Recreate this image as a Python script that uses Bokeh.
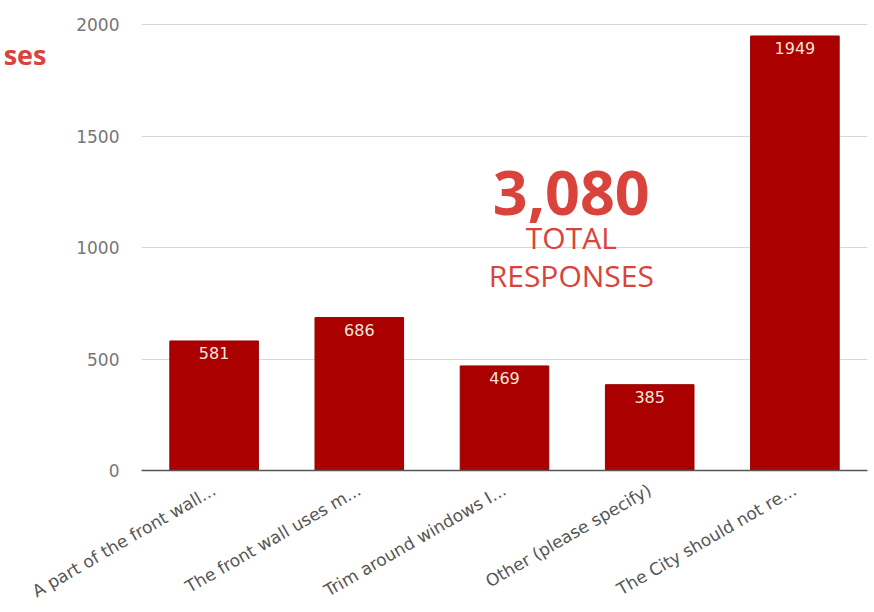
import math
from bokeh.plotting import figure
from bokeh.models import ColumnDataSource, FixedTicker, Range1d, Label, LabelSet, LinearAxis
from bokeh.core.properties import value
from bokeh.embed import file_html
from bokeh.resources import INLINE

categories = ["A part of the front wall...", "The front wall uses m...", "Trim around windows I...",
              "Other (please specify)", "The City should not re..."]
values = [581, 686, 469, 385, 1949]
y_ticks = [0, 500, 1000, 1500, 2000]
total_text = "3,080"
total_sub1 = "TOTAL"
total_sub2 = "RESPONSES"
side_text = "ses"

src = ColumnDataSource(dict(cat=categories, val=values, lab=[str(v) for v in values]))

p = figure(x_range=categories, y_range=Range1d(0, 2050), width=874, height=612,
           output_backend="svg", toolbar_location=None,
           min_border_left=139, min_border_right=7, min_border_top=13, min_border_bottom=139)
p.outline_line_color = None
p.background_fill_color = "white"

p.vbar(x="cat", top="val", width=0.61, source=src, fill_color="#aa0000", line_color="#990000")

labels = LabelSet(x="cat", y="val", text="lab", source=src, text_align="center",
                  text_baseline="top", y_offset=-6, text_color="#f4e6dc",
                  text_font_size="16px", text_font=value("DejaVu Sans"))
p.add_layout(labels)

p.yaxis.ticker = FixedTicker(ticks=y_ticks)
p.yaxis.axis_line_color = None
p.yaxis.major_tick_line_color = None
p.yaxis.minor_tick_line_color = None
p.yaxis.major_label_standoff = 16
p.yaxis.major_label_text_color = "#777777"
p.yaxis.major_label_text_font = "DejaVu Sans"
p.yaxis.major_label_text_font_size = "17px"

p.xaxis.axis_line_color = "#555555"
p.xaxis.axis_line_width = 1.5
p.xaxis.major_tick_line_color = None
p.xaxis.minor_tick_line_color = None
p.xaxis.major_label_orientation = math.pi / 6
p.xaxis.major_label_standoff = 12
p.xaxis.major_label_text_color = "#555555"
p.xaxis.major_label_text_font = "DejaVu Sans"
p.xaxis.major_label_text_font_size = "17px"

p.xgrid.grid_line_color = None
p.ygrid.grid_line_color = "#d8d8d8"
p.ygrid.ticker = FixedTicker(ticks=y_ticks)

red = "#d9433b"
p.add_layout(Label(x=2.96, y=1245, text=total_text, text_align="center", text_baseline="middle",
                   text_font="Open Sans", text_font_style="bold", text_font_size="61px", text_color=red))
p.add_layout(Label(x=2.96, y=1043, text=total_sub1, text_align="center", text_baseline="middle",
                   text_font="Open Sans", text_font_size="30px", text_color=red))
p.add_layout(Label(x=2.96, y=873, text=total_sub2, text_align="center", text_baseline="middle",
                   text_font="Open Sans", text_font_size="30px", text_color=red))

# cropped slide text at the top-left, drawn as an outer left axis with a single label
side_axis = LinearAxis(ticker=FixedTicker(ticks=[1867]), major_label_overrides={1867: side_text},
                       axis_line_color=None, major_tick_line_color=None, minor_tick_line_color=None,
                       major_label_standoff=21, major_label_text_color=red,
                       major_label_text_font="Open Sans", major_label_text_font_style="bold",
                       major_label_text_font_size="27px")
p.add_layout(side_axis, "left")

open("out.html", "w").write(file_html(p, INLINE))
